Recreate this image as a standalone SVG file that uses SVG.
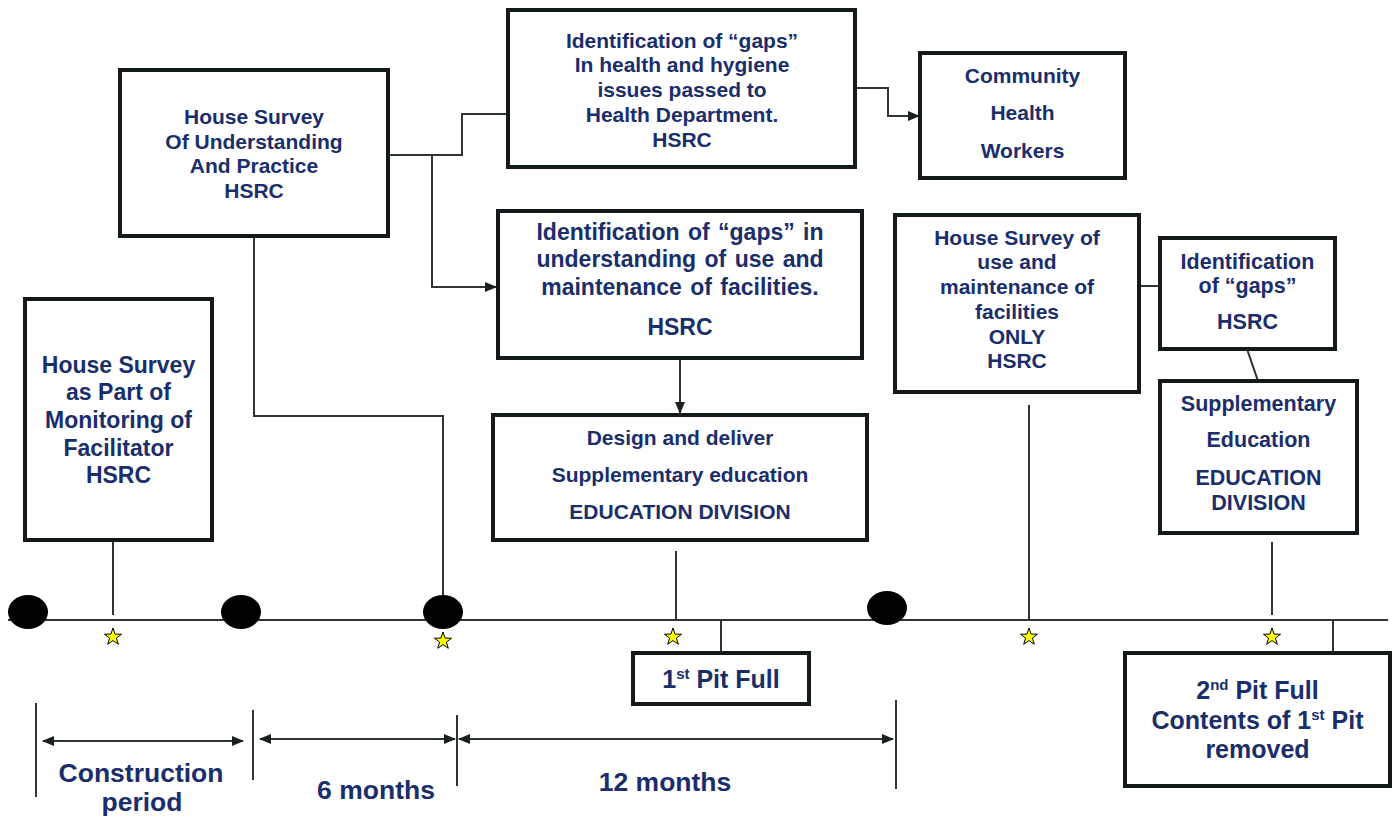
<svg xmlns="http://www.w3.org/2000/svg" width="1398" height="818" viewBox="0 0 1398 818">
<defs>
<style>
.box{fill:#fff;stroke:#141a1c;stroke-width:4}
.t{font-family:"Liberation Sans",Arial,sans-serif;font-weight:bold;fill:#1a2e6c;text-anchor:middle}
.ln{fill:none;stroke:#2e3334;stroke-width:2}
.dot{fill:#000}
.star{fill:#ffff00;stroke:#000;stroke-width:1}
</style>
<marker id="ah" markerUnits="userSpaceOnUse" markerWidth="12" markerHeight="10" refX="11" refY="5" orient="auto-start-reverse">
<path d="M0,0 L12,5 L0,10 z" fill="#1a1f20"/>
</marker>
<path id="st" d="M0,-9 L2.1,-2.9 L8.56,-2.78 L3.42,1.11 L5.29,7.28 L0,3.6 L-5.29,7.28 L-3.42,1.11 L-8.56,-2.78 L-2.1,-2.9 z"/>
</defs>
<rect width="1398" height="818" fill="#fff"/>

<g id="connectors">
<line class="ln" x1="8" y1="620" x2="1388" y2="620"/>
<polyline class="ln" points="113,540 113,615"/>
<polyline class="ln" points="254,236 254,416 443,416 443,598"/>
<polyline class="ln" points="388,155 462,155 462,114 506,114"/>
<polyline class="ln" points="388,155 432,155 432,287 496,287" marker-end="url(#ah)"/>
<polyline class="ln" points="855,88 888,88 888,116 919,116" marker-end="url(#ah)"/>
<line class="ln" x1="680" y1="358" x2="680" y2="413" marker-end="url(#ah)"/>
<line class="ln" x1="676" y1="551" x2="676" y2="620"/>
<line class="ln" x1="721" y1="620" x2="721" y2="653"/>
<line class="ln" x1="1139" y1="286" x2="1160" y2="286"/>
<line class="ln" x1="1247" y1="349" x2="1258" y2="381"/>
<line class="ln" x1="1029" y1="405" x2="1029" y2="620"/>
<line class="ln" x1="1272" y1="542" x2="1272" y2="615"/>
<line class="ln" x1="1333" y1="620" x2="1333" y2="653"/>
<line class="ln" x1="36" y1="703" x2="36" y2="797"/>
<line class="ln" x1="253" y1="710" x2="253" y2="780"/>
<line class="ln" x1="457" y1="715" x2="457" y2="786"/>
<line class="ln" x1="896" y1="700" x2="896" y2="789"/>
<line class="ln" x1="43" y1="741" x2="243" y2="741" marker-start="url(#ah)" marker-end="url(#ah)"/>
<line class="ln" x1="260" y1="739" x2="455" y2="739" marker-start="url(#ah)" marker-end="url(#ah)"/>
<line class="ln" x1="459" y1="739" x2="893" y2="739" marker-start="url(#ah)" marker-end="url(#ah)"/>
</g>

<g id="milestones">
<ellipse class="dot" cx="28" cy="612" rx="20" ry="17"/>
<ellipse class="dot" cx="241" cy="612" rx="20" ry="17"/>
<ellipse class="dot" cx="443" cy="612" rx="20" ry="17"/>
<ellipse class="dot" cx="887" cy="608" rx="20" ry="17"/>
<use href="#st" class="star" x="113" y="637"/>
<use href="#st" class="star" x="443" y="641"/>
<use href="#st" class="star" x="673" y="637"/>
<use href="#st" class="star" x="1029" y="637"/>
<use href="#st" class="star" x="1272" y="637"/>
</g>

<g id="n-survey-facilitator">
<rect class="box" x="25" y="299" width="187" height="241"/>
<text class="t" font-size="23"><tspan x="118.5" y="373">House Survey</tspan><tspan x="118.5" y="400">as Part of</tspan><tspan x="118.5" y="428">Monitoring of</tspan><tspan x="118.5" y="456">Facilitator</tspan><tspan x="118.5" y="483">HSRC</tspan></text>
</g>

<g id="n-survey-understanding">
<rect class="box" x="120" y="70" width="268" height="166"/>
<text class="t" font-size="21"><tspan x="254" y="123.5">House Survey</tspan><tspan x="254" y="148.5">Of Understanding</tspan><tspan x="254" y="172.5">And Practice</tspan><tspan x="254" y="197.5">HSRC</tspan></text>
</g>

<g id="n-gaps-health">
<rect class="box" x="508" y="10" width="347" height="157"/>
<text class="t" font-size="21"><tspan x="682" y="47.5">Identification of “gaps”</tspan><tspan x="682" y="71.5">In health and hygiene</tspan><tspan x="682" y="96.5">issues passed to</tspan><tspan x="682" y="121.5">Health Department.</tspan><tspan x="682" y="146.5">HSRC</tspan></text>
</g>

<g id="n-chw">
<rect class="box" x="920" y="53" width="205" height="125"/>
<text class="t" font-size="21"><tspan x="1022.5" y="82.5">Community</tspan><tspan x="1022.5" y="119.5">Health</tspan><tspan x="1022.5" y="157.5">Workers</tspan></text>
</g>

<g id="n-gaps-understanding">
<rect class="box" x="498" y="211" width="364" height="147"/>
<text class="t" font-size="23" word-spacing="2"><tspan x="680" y="240">Identification of “gaps” in</tspan><tspan x="680" y="267">understanding of use and</tspan><tspan x="680" y="295">maintenance of facilities.</tspan><tspan x="680" y="335">HSRC</tspan></text>
</g>

<g id="n-design">
<rect class="box" x="493" y="415" width="374" height="125"/>
<text class="t" font-size="21"><tspan x="680" y="444.5">Design and deliver</tspan><tspan x="680" y="481.5">Supplementary education</tspan><tspan x="680" y="518.5">EDUCATION DIVISION</tspan></text>
</g>

<g id="n-survey-use">
<rect class="box" x="895" y="215" width="244" height="177"/>
<text class="t" font-size="21"><tspan x="1017" y="244.5">House Survey of</tspan><tspan x="1017" y="268.5">use and</tspan><tspan x="1017" y="293.5">maintenance of</tspan><tspan x="1017" y="318.5">facilities</tspan><tspan x="1017" y="343.5">ONLY</tspan><tspan x="1017" y="367.5">HSRC</tspan></text>
</g>

<g id="n-gaps-2">
<rect class="box" x="1160" y="238" width="175" height="111"/>
<text class="t" font-size="21.5"><tspan x="1247.5" y="268.5">Identification</tspan><tspan x="1247.5" y="292.5">of “gaps”</tspan><tspan x="1247.5" y="328.5">HSRC</tspan></text>
</g>

<g id="n-supp-edu">
<rect class="box" x="1160" y="381" width="197" height="152"/>
<text class="t" font-size="21.5"><tspan x="1258.5" y="410.5">Supplementary</tspan><tspan x="1258.5" y="446.5">Education</tspan><tspan x="1258.5" y="484.5">EDUCATION</tspan><tspan x="1258.5" y="509.5">DIVISION</tspan></text>
</g>

<g id="n-pit1">
<rect class="box" x="633" y="653" width="176" height="51"/>
<text class="t" font-size="25" x="721" y="688">1<tspan font-size="15" dy="-9">st</tspan><tspan dy="9"> Pit Full</tspan></text>
</g>

<g id="n-pit2">
<rect class="box" x="1125" y="653" width="265" height="133"/>
<text class="t" font-size="25" x="1257.5" y="699">2<tspan font-size="15" dy="-9">nd</tspan><tspan dy="9"> Pit Full</tspan></text>
<text class="t" font-size="25" x="1257.5" y="729">Contents of 1<tspan font-size="15" dy="-9">st</tspan><tspan dy="9"> Pit</tspan></text>
<text class="t" font-size="25" x="1257.5" y="758">removed</text>
</g>

<g id="period-labels">
<text class="t" font-size="26.5" x="141" y="782">Construction</text>
<text class="t" font-size="26.5" x="142" y="811">period</text>
<text class="t" font-size="26.5" x="376" y="799">6 months</text>
<text class="t" font-size="26.5" x="665" y="791">12 months</text>
</g>
</svg>
